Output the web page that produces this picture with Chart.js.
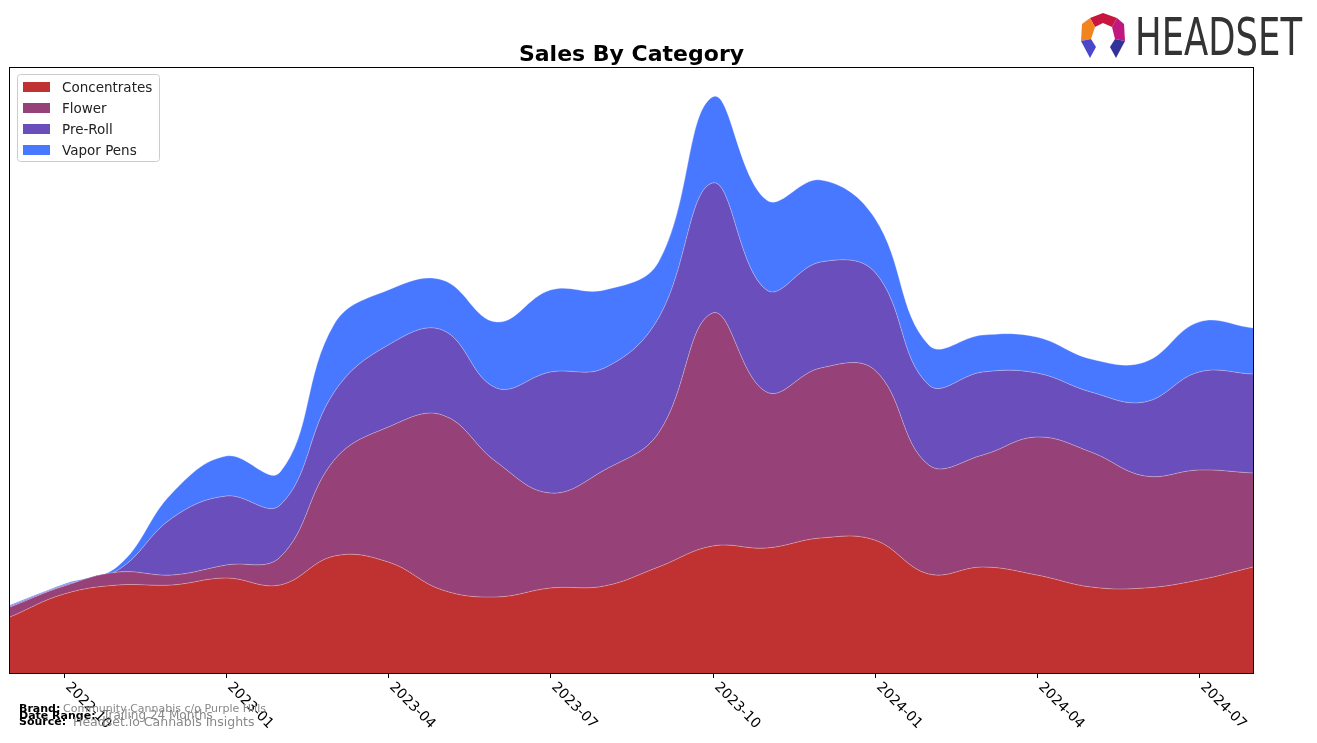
<!DOCTYPE html>
<html>
<head>
<meta charset="utf-8">
<script src="https://cdn.jsdelivr.net/npm/chart.js@4"></script>
<style>
  html, body { margin: 0; padding: 0; background: #fff; }
  canvas { display: block; }
</style>
</head>
<body>
<canvas id="salesChart" width="1317" height="743"></canvas>
<script>
// monthly sales by category (stacked)
const months = [
  "2022-09", "2022-10", "2022-11", "2022-12", "2023-01", "2023-02",
  "2023-03", "2023-04", "2023-05", "2023-06", "2023-07", "2023-08",
  "2023-09", "2023-10", "2023-11", "2023-12", "2024-01", "2024-02",
  "2024-03", "2024-04", "2024-05", "2024-06", "2024-07", "2024-08"
];
const concentrates = [56, 79, 88, 88, 95, 88, 117, 111, 83, 76, 85, 87, 106, 127, 125, 135, 133, 99, 106, 98, 86, 85, 93, 106];
const flower = [10, 8, 13, 10, 13, 28, 96, 135, 175, 135, 95, 116, 134, 233, 156, 170, 170, 109, 112, 138, 135, 112, 110, 94];
const preRoll = [1, 1, 2, 57, 69, 52, 68, 82, 85, 74, 121, 102, 115, 130, 102, 106, 98, 80, 83, 64, 60, 74, 98, 99];
const vaporPens = [1, 1, 4, 25, 40, 33, 68, 55, 50, 66, 82, 78, 56, 86, 90, 82, 54, 40, 37, 36, 33, 40, 50, 46];
const tickMonths = ["2022-10", "2023-01", "2023-04", "2023-07", "2023-10", "2024-01", "2024-04", "2024-07"];

const categories = ["Concentrates", "Flower", "Pre-Roll", "Vapor Pens"];
const colors = ["#c03232", "#964278", "#6a4ebc", "#4878ff"];

const FONT = "'DejaVu Sans', Verdana, sans-serif";

function drawLogo(ctx) {
  const parts = [
    ["#c8173f", [[1090, 18], [1103, 13], [1117, 18], [1112, 27], [1103, 23], [1095, 27]]],
    ["#f2841f", [[1090, 18], [1095, 27], [1091, 39], [1081, 41], [1082, 24]]],
    ["#c0187c", [[1117, 18], [1124, 24], [1125, 41], [1115, 39], [1112, 27]]],
    ["#4a48c8", [[1081, 41], [1091, 39], [1096, 47], [1090, 58]]],
    ["#33329a", [[1125, 41], [1115, 39], [1110, 47], [1116, 58]]]
  ];
  parts.forEach(([c, pts]) => {
    ctx.beginPath();
    pts.forEach((p, i) => i ? ctx.lineTo(p[0], p[1]) : ctx.moveTo(p[0], p[1]));
    ctx.closePath();
    ctx.fillStyle = c;
    ctx.fill();
  });
  ctx.fillStyle = "#333";
  ctx.font = "51px 'Liberation Sans Narrow', 'DejaVu Sans Condensed', sans-serif";
  ctx.textAlign = "left";
  ctx.textBaseline = "alphabetic";
  ctx.fillText("HEADSET", 1135, 55, 167);
}

const decor = {
  id: "decor",
  afterDraw(chart) {
    const ctx = chart.ctx;
    const area = chart.chartArea;
    const xs = chart.scales.x;
    ctx.save();

    // frame
    ctx.strokeStyle = "#000";
    ctx.lineWidth = 1;
    ctx.strokeRect(area.left - 0.5, area.top + 0.5, area.right - area.left + 1, area.bottom - area.top);

    // ticks + rotated labels
    ctx.font = "14px " + FONT;
    ctx.fillStyle = "#000";
    ctx.textAlign = "left";
    ctx.textBaseline = "middle";
    tickMonths.forEach(m => {
      const x = Math.round(xs.getPixelForValue(months.indexOf(m))) + 0.5;
      ctx.beginPath();
      ctx.moveTo(x, area.bottom);
      ctx.lineTo(x, area.bottom + 5);
      ctx.stroke();
      ctx.save();
      ctx.translate(x + 3, area.bottom + 12);
      ctx.rotate(Math.PI / 4);
      ctx.fillText(m, 0, 0);
      ctx.restore();
    });

    // title
    ctx.font = "bold 22px " + FONT;
    ctx.textAlign = "center";
    ctx.textBaseline = "alphabetic";
    ctx.fillText("Sales By Category", (area.left + area.right) / 2, 61);

    // legend
    ctx.beginPath();
    ctx.roundRect(17.5, 74.5, 142, 87, 3);
    ctx.fillStyle = "rgba(255,255,255,0.8)";
    ctx.fill();
    ctx.strokeStyle = "#cccccc";
    ctx.stroke();
    ctx.font = "13.5px " + FONT;
    ctx.textAlign = "left";
    ctx.textBaseline = "middle";
    categories.forEach((name, i) => {
      const cy = 87 + i * 21;
      ctx.fillStyle = colors[i];
      ctx.fillRect(23, cy - 5, 27, 10);
      ctx.fillStyle = "#222";
      ctx.fillText(name, 62, cy + 1);
    });

    // footer
    ctx.textBaseline = "alphabetic";
    ctx.fillStyle = "#000";
    ctx.font = "bold 11px " + FONT;
    ctx.fillText("Brand:", 19, 712);
    ctx.fillText("Date Range:", 19, 719);
    ctx.fillText("Source:", 19, 725);
    ctx.fillStyle = "#888";
    ctx.font = "11px " + FONT;
    ctx.fillText("Community Cannabis c/o Purple Hills", 63, 712);
    ctx.font = "12px " + FONT;
    ctx.fillText("Trailing 24 Months", 103, 719);
    ctx.font = "12.5px " + FONT;
    ctx.fillText("Headset.io Cannabis Insights", 73, 726);

    drawLogo(ctx);
    ctx.restore();
  }
};

const series = [concentrates, flower, preRoll, vaporPens];

new Chart(document.getElementById("salesChart").getContext("2d"), {
  type: "line",
  data: {
    labels: months,
    datasets: series.map((vals, i) => ({
      label: categories[i],
      data: vals,
      backgroundColor: colors[i],
      borderColor: "rgba(255,255,255,0.3)",
      borderWidth: 1,
      fill: i === 0 ? "origin" : "-1",
      tension: 0.4,
      pointRadius: 0
    }))
  },
  options: {
    responsive: false,
    devicePixelRatio: 1,
    animation: false,
    layout: { padding: { left: 10, right: 64, top: 67, bottom: 70 } },
    scales: {
      x: { display: false },
      y: { display: false, stacked: true, min: 0, max: 606 }
    },
    plugins: {
      legend: { display: false },
      title: { display: false },
      tooltip: { enabled: false }
    }
  },
  plugins: [decor]
});
</script>
</body>
</html>
